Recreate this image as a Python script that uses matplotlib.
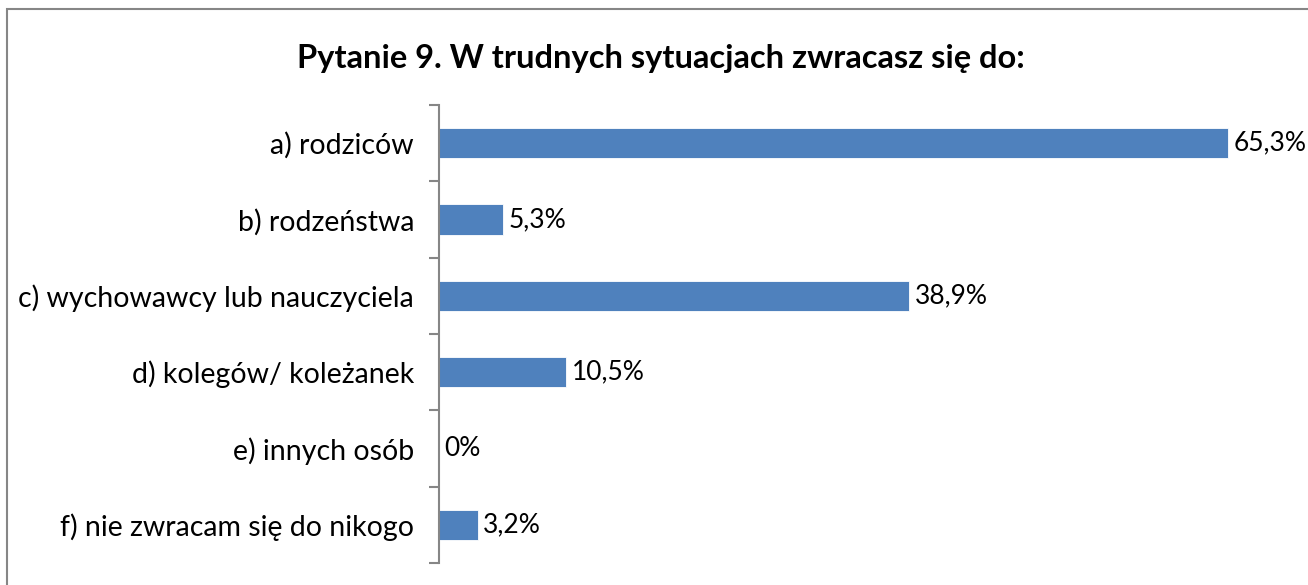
import matplotlib.pyplot as plt
from matplotlib.patches import Rectangle

# dane
kategorie = ['a) rodziców', 'b) rodzeństwa', 'c) wychowawcy lub nauczyciela',
             'd) kolegów/ koleżanek', 'e) innych osób', 'f) nie zwracam się do nikogo']
wartosci = [65.3, 5.3, 38.9, 10.5, 0, 3.2]
etykiety = ['65,3%', '5,3%', '38,9%', '10,5%', '0%', '3,2%']

plt.rcParams['font.family'] = ['Lato', 'DejaVu Sans']

fig = plt.figure(figsize=(13.08, 5.85), dpi=100)
ax = fig.add_axes([439 / 1308, 22 / 585, 846 / 1308, 458 / 585])

n = len(kategorie)
pozycje = list(range(n))
ax.barh(pozycje, wartosci, height=0.4, color='#4F81BD', edgecolor='white', linewidth=0.6)

ax.set_ylim(n - 0.5, -0.5)
ax.set_xlim(0, 70)

for p, w, e in zip(pozycje, wartosci, etykiety):
    ax.annotate(e, (w, p), xytext=(4, 0), textcoords='offset points',
                va='center', ha='left', fontsize=19)

ax.set_yticks(pozycje)
ax.set_yticklabels(kategorie, fontsize=20.5)
ax.set_yticks([i - 0.5 for i in range(n + 1)], minor=True)
ax.tick_params(axis='y', which='major', length=0, pad=18)
ax.tick_params(axis='y', which='minor', length=7, width=1.5, color='#868686')
ax.set_xticks([])
for s in ['top', 'right', 'bottom']:
    ax.spines[s].set_visible(False)
ax.spines['left'].set_color('#868686')
ax.spines['left'].set_linewidth(1.5)

fig.text(0.505, 0.9, 'Pytanie 9. W trudnych sytuacjach zwracasz się do:',
         ha='center', va='center', fontsize=23.5, fontweight='bold')

# ramka wykresu
fig.patches.append(Rectangle((7 / 1308, -0.01), 1.02, (585 - 9) / 585 + 0.01,
                             transform=fig.transFigure, fill=False,
                             edgecolor='#868686', linewidth=1.5))

fig.savefig('out.png', dpi=100)
